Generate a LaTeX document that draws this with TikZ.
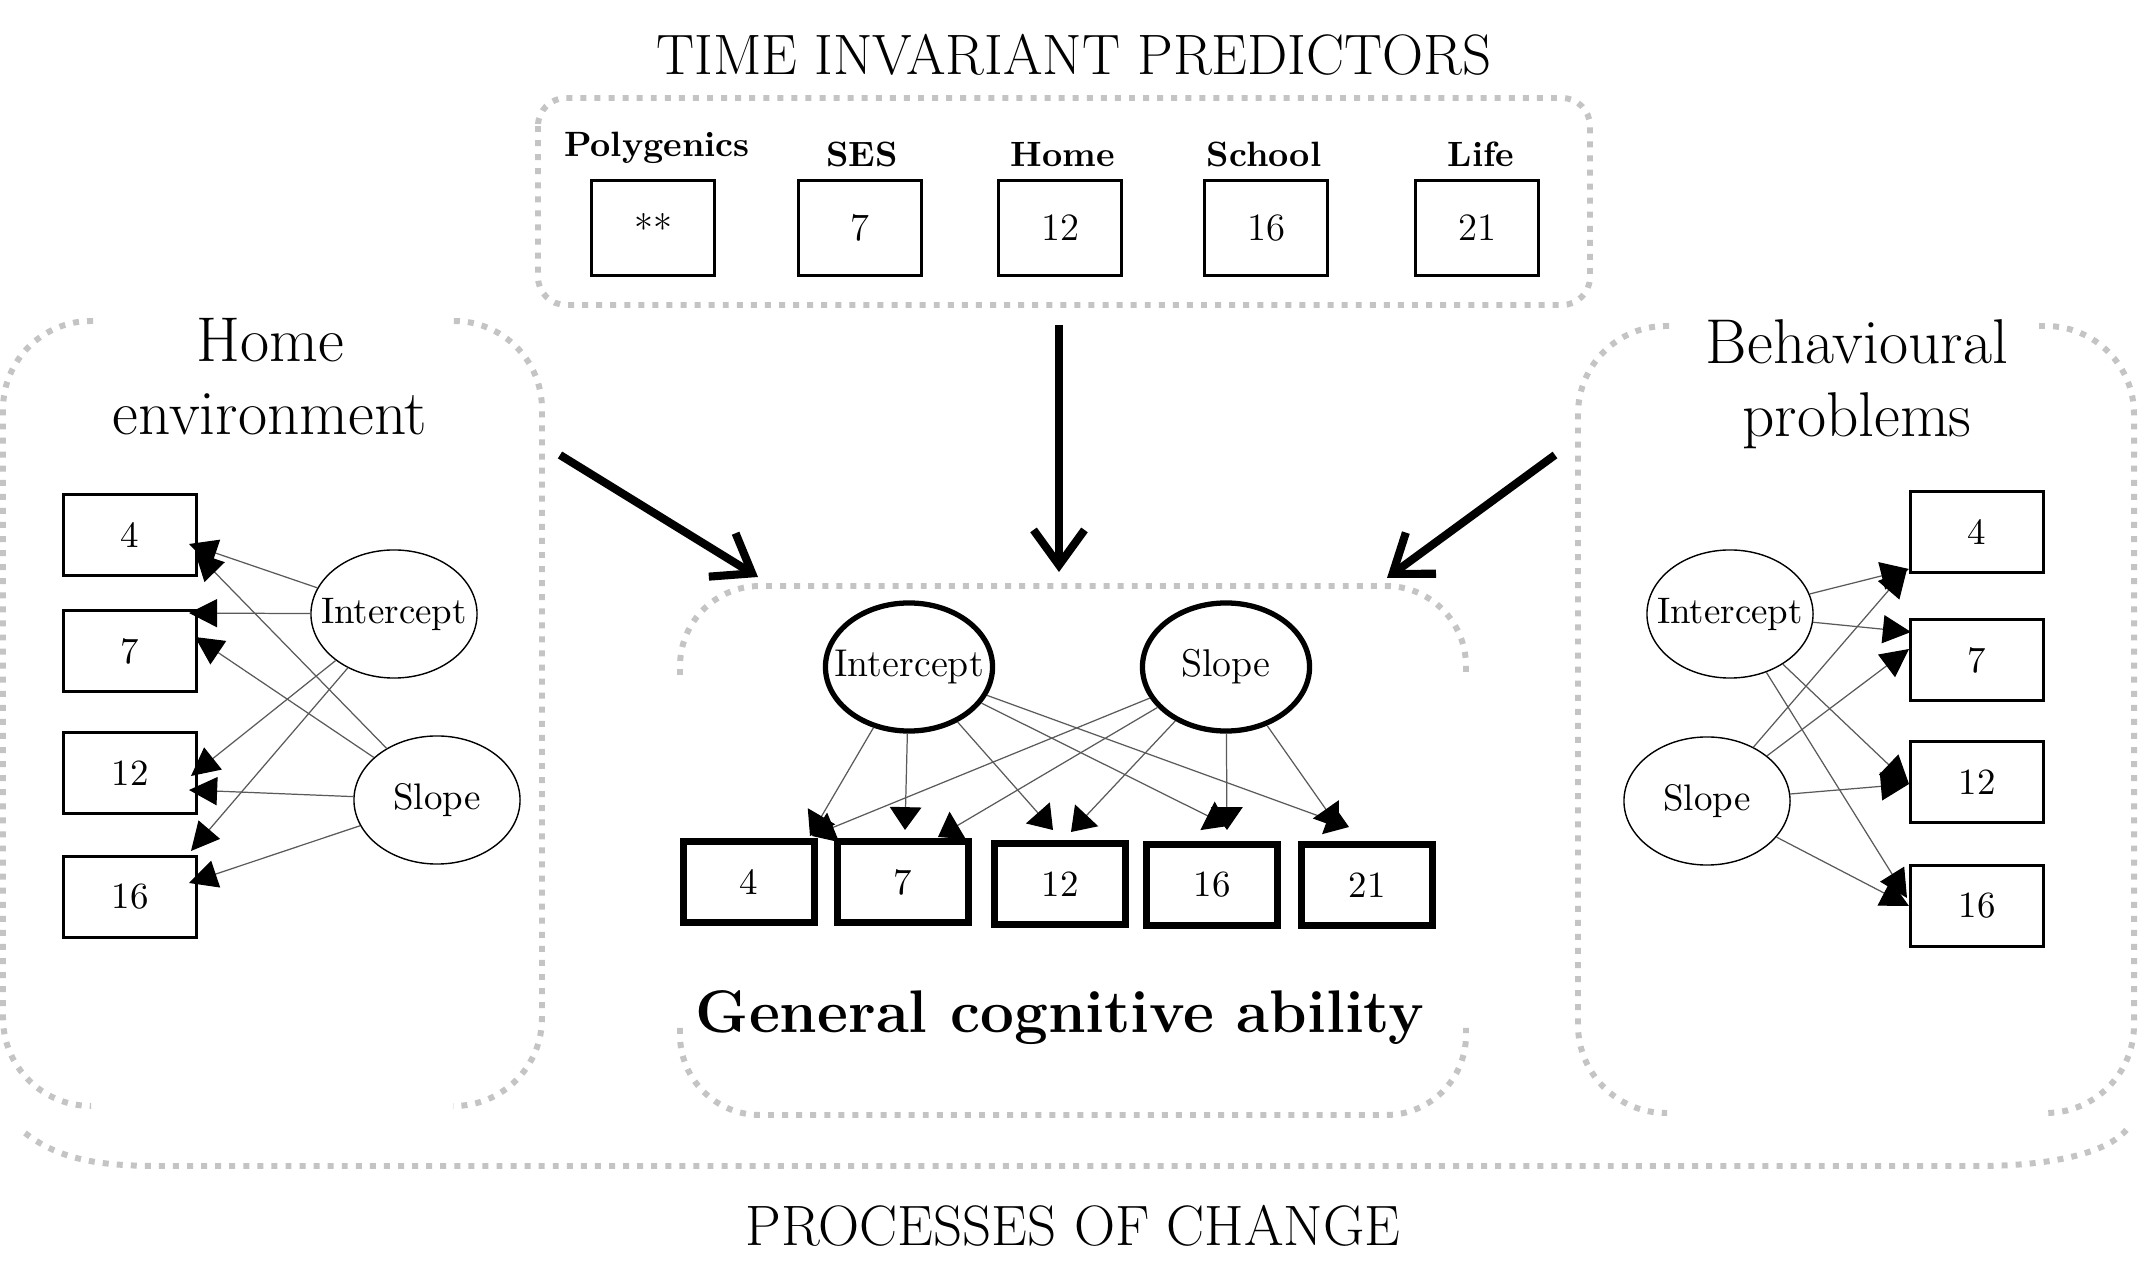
\documentclass[tikz,border=0pt]{standalone}
\usepackage{fontspec}
\usetikzlibrary{arrows.meta,shapes.geometric}
\definecolor{dotgray}{RGB}{196,196,196}
\definecolor{linegray}{RGB}{90,90,90}
\newcommand{\zw}[1]{\makebox[0pt]{#1}}
\begin{document}
\begin{tikzpicture}[x=0.01cm,y=-0.01cm,
  dotbox/.style={draw=dotgray,line width=1.7pt,dash pattern=on 1.7pt off 2.3pt},
  bigarrow/.style={line width=2.3pt,-{Straight Barb[length=10pt,width=14.5pt]}},
  sidebox/.style={draw,line width=0.85pt,minimum width=1.32cm,minimum height=0.80cm,inner sep=0pt,font=\fontsize{10.5}{12}\selectfont},
  topbox/.style={draw,line width=0.85pt,minimum width=1.23cm,minimum height=0.94cm,inner sep=0pt,font=\fontsize{11}{13}\selectfont},
  cbox/.style={draw,line width=2pt,minimum width=1.30cm,minimum height=0.80cm,inner sep=0pt,font=\fontsize{10.5}{12}\selectfont},
  sideell/.style={draw,ellipse,line width=0.4pt,minimum width=1.66cm,minimum height=1.28cm,inner sep=0pt,font=\fontsize{10.5}{12}\selectfont},
  cell/.style={draw,ellipse,line width=1.5pt,minimum width=1.67cm,minimum height=1.28cm,inner sep=0pt,font=\fontsize{11}{13}\selectfont},
  toplabel/.style={anchor=base,font=\bfseries\fontsize{10}{12}\selectfont},
  sidetitle/.style={anchor=base,align=center,font=\fontsize{18}{21}\selectfont},
  bigtitle/.style={anchor=base,font=\fontsize{16.2}{19}\selectfont},
  sem/.style={draw=linegray,line width=0.35pt,-{Triangle[length=8pt,width=8pt,color=black]}},
  csem/.style={draw=linegray,line width=0.35pt,-{Triangle[length=6.5pt,width=9pt,color=black]}},
]
\fill[white] (0,0) rectangle (2138,1264);
\useasboundingbox (0,0) rectangle (2138,1264);

% ---------- dotted frames ----------
\draw[dotbox,rounded corners=0.28cm] (538,98) rectangle (1590,305);
% left box
\draw[dotbox,rounded corners=0.88cm] (93,321) -- (3,321) -- (3,1106) -- (90,1106);
\draw[dotbox,rounded corners=0.88cm] (454,321) -- (542,321) -- (542,1106) -- (453,1106);
% right box
\draw[dotbox,rounded corners=0.88cm] (1669,326) -- (1578,326) -- (1578,1113) -- (1667,1113);
\draw[dotbox,rounded corners=0.88cm] (2039,326) -- (2134,326) -- (2134,1113) -- (2047,1113);
% centre box
\draw[dotbox,rounded corners=0.80cm] (680,675) -- (680,586) -- (1466,586) -- (1466,675);
\draw[dotbox,rounded corners=0.80cm] (680,1028) -- (680,1115) -- (1466,1115) -- (1466,1028);
% outer bracket
\draw[dotbox] (25,1133) .. controls (60,1160) and (100,1166) .. (160,1166) -- (1978,1166) .. controls (2060,1166) and (2115,1150) .. (2130,1125);

% ---------- titles ----------
\node[bigtitle] (ttl) at (1074,75) {TIME INVARIANT PREDICTORS};
\node[bigtitle] (proc) at (1073,1245) {PROCESSES OF CHANGE};
\node[anchor=base,font=\bfseries\fontsize{17.1}{20}\selectfont] (gca) at (1060,1033) {General cognitive ability};
\node[sidetitle] (het) at (270,435) {Home\\environment};
\node[sidetitle] (bpt) at (1857,437) {Behavioural\\problems};

% ---------- time invariant predictors ----------
\node[toplabel] (lpoly) at (657,157) {Polygenics};
\node[toplabel] (lses) at (862,167) {SES};
\node[toplabel] (lhome) at (1063,167) {Home};
\node[toplabel] (lschool) at (1264,167) {School};
\node[toplabel] (llife) at (1481,167) {Life};
\node[topbox] (tpoly) at (653,228) {**};
\node[topbox] (tses) at (860,228) {7};
\node[topbox] (thome) at (1060,228) {12};
\node[topbox] (tschool) at (1266,228) {16};
\node[topbox] (tlife) at (1477,228) {21};

% ---------- big arrows ----------
\coordinate (va) at (1059,325); \coordinate (vb) at (1059,572);
\coordinate (la) at (560,455);  \coordinate (lb) at (758,577);
\coordinate (ra) at (1555,455); \coordinate (rb) at (1387,578);
\draw[bigarrow] (va) -- (vb);
\draw[bigarrow] (la) -- (lb);
\draw[bigarrow] (ra) -- (rb);

% ---------- home environment ----------
\node[sidebox] (h4) at (130,535) {4};
\node[sidebox] (h7) at (130,651) {7};
\node[sidebox] (h12) at (130,773) {12};
\node[sidebox] (h16) at (130,897) {16};
\node[sideell] (hi) at (394,614) {\zw{Intercept}};
\node[sideell] (hs) at (437,800) {\zw{Slope}};
\coordinate (hi4) at (189,544); \coordinate (hs4) at (195,552);
\coordinate (hi7) at (189,613); \coordinate (hs7) at (195,637);
\coordinate (hi12) at (191,776); \coordinate (hs12) at (189,790);
\coordinate (hi16) at (191,851); \coordinate (hs16) at (189,883);
\draw[sem] (hi) -- (hi4);
\draw[sem] (hi) -- (hi7);
\draw[sem] (hi) -- (hi12);
\draw[sem] (hi) -- (hi16);
\draw[sem] (hs) -- (hs4);
\draw[sem] (hs) -- (hs7);
\draw[sem] (hs) -- (hs12);
\draw[sem] (hs) -- (hs16);

% ---------- behavioural problems ----------
\node[sidebox] (b4) at (1977,532) {4};
\node[sidebox] (b7) at (1977,660) {7};
\node[sidebox] (b12) at (1977,782) {12};
\node[sidebox] (b16) at (1977,906) {16};
\node[sideell] (bi) at (1730,614) {\zw{Intercept}};
\node[sideell] (bs) at (1707,801) {\zw{Slope}};
\coordinate (bi4) at (1909,569); \coordinate (bs4) at (1907,569);
\coordinate (bi7) at (1911,632); \coordinate (bs7) at (1909,649);
\coordinate (bi12) at (1909,784); \coordinate (bs12) at (1909,784);
\coordinate (bi16) at (1907,898); \coordinate (bs16) at (1909,906);
\draw[sem] (bi) -- (bi4);
\draw[sem] (bi) -- (bi7);
\draw[sem] (bi) -- (bi12);
\draw[sem] (bi) -- (bi16);
\draw[sem] (bs) -- (bs4);
\draw[sem] (bs) -- (bs7);
\draw[sem] (bs) -- (bs12);
\draw[sem] (bs) -- (bs16);

% ---------- general cognitive ability ----------
\node[cbox] (g4) at (749,882) {4};
\node[cbox] (g7) at (903,882) {7};
\node[cbox] (g12) at (1060,884) {12};
\node[cbox] (g16) at (1212,885) {16};
\node[cbox] (g21) at (1367,885) {21};
\node[cell] (gi) at (909,667) {\zw{Intercept}};
\node[cell] (gs) at (1226,667) {\zw{Slope}};
\coordinate (gi4) at (810,836); \coordinate (gs4) at (812,836);
\coordinate (gi7) at (905,830); \coordinate (gs7) at (938,837);
\coordinate (gi12) at (1053,830); \coordinate (gs12) at (1071,832);
\coordinate (gi16) at (1228,826); \coordinate (gs16) at (1227,830);
\coordinate (gi21) at (1349,827); \coordinate (gs21) at (1339,828);
\draw[csem] (gi) -- (gi4);
\draw[csem] (gi) -- (gi7);
\draw[csem] (gi) -- (gi12);
\draw[csem] (gi) -- (gi16);
\draw[csem] (gi) -- (gi21);
\draw[csem] (gs) -- (gs4);
\draw[csem] (gs) -- (gs7);
\draw[csem] (gs) -- (gs12);
\draw[csem] (gs) -- (gs16);
\draw[csem] (gs) -- (gs21);
\end{tikzpicture}
\end{document}
